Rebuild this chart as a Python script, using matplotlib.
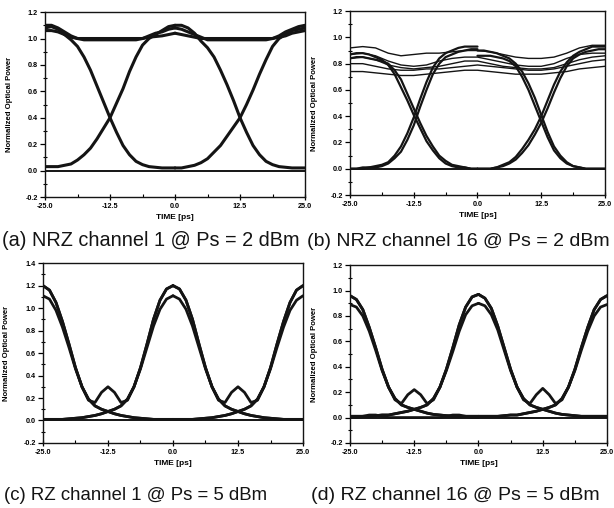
"""Eye diagrams for NRZ and RZ channels (four panels)."""

import matplotlib

matplotlib.use("Agg")
import matplotlib.pyplot as plt
from matplotlib.ticker import FixedLocator, MultipleLocator

plt.rcParams["font.family"] = ["Liberation Sans", "DejaVu Sans"]

INK = "#141414"

# time samples (ps): each half of the two-bit window every 1.25 ps
T_L = [-25.0, -23.75, -22.5, -21.25, -20.0, -18.75, -17.5, -16.25, -15.0, -13.75, -12.5,
       -11.25, -10.0, -8.75, -7.5, -6.25, -5.0, -3.75, -2.5, -1.25, 0.0]
T_R = [0.0, 1.25, 2.5, 3.75, 5.0, 6.25, 7.5, 8.75, 10.0, 11.25, 12.5,
       13.75, 15.0, 16.25, 17.5, 18.75, 20.0, 21.25, 22.5, 23.75, 25.0]
T_FULL = [-25.0, -22.5, -20.0, -17.5, -15.0, -12.5, -10.0, -7.5, -5.0, -2.5, 0.0,
          2.5, 5.0, 7.5, 10.0, 12.5, 15.0, 17.5, 20.0, 22.5, 25.0]
ZERO_FULL = [0.0, 0.0, 0.0, 0.0, 0.0, 0.0, 0.0, 0.0, 0.0, 0.0, 0.0,
             0.0, 0.0, 0.0, 0.0, 0.0, 0.0, 0.0, 0.0, 0.0, 0.0]

# (a) NRZ channel 1, Ps = 2 dBm
A_L10 = [1.08, 1.09, 1.07, 1.03, 0.99, 0.94, 0.86, 0.76, 0.64, 0.52, 0.40,
         0.29, 0.19, 0.12, 0.07, 0.045, 0.03, 0.025, 0.02, 0.02, 0.02]
A_L01 = [0.03, 0.03, 0.03, 0.04, 0.05, 0.08, 0.12, 0.17, 0.24, 0.32, 0.40,
         0.51, 0.62, 0.75, 0.86, 0.95, 1.00, 1.03, 1.06, 1.09, 1.10]
A_L11 = [1.06, 1.06, 1.05, 1.03, 1.01, 1.00, 1.00, 1.00, 1.00, 1.00, 1.00,
         1.00, 1.00, 1.00, 1.00, 1.00, 1.01, 1.015, 1.02, 1.03, 1.04]
A_L11B = [1.10, 1.10, 1.08, 1.05, 1.02, 1.00, 0.99, 0.99, 0.99, 0.99, 0.99,
          0.99, 0.99, 0.99, 0.99, 1.00, 1.02, 1.04, 1.05, 1.07, 1.08]
A_R10 = [1.10, 1.10, 1.08, 1.04, 0.98, 0.93, 0.86, 0.76, 0.65, 0.53, 0.40,
         0.29, 0.19, 0.12, 0.07, 0.045, 0.03, 0.025, 0.02, 0.02, 0.02]
A_R01 = [0.02, 0.02, 0.03, 0.04, 0.06, 0.09, 0.14, 0.19, 0.26, 0.33, 0.40,
         0.50, 0.61, 0.73, 0.84, 0.94, 1.00, 1.03, 1.06, 1.07, 1.08]
A_R11 = [1.04, 1.03, 1.02, 1.01, 1.00, 1.00, 1.00, 1.00, 1.00, 1.00, 1.00,
         1.00, 1.00, 1.00, 1.00, 1.00, 1.01, 1.02, 1.04, 1.05, 1.06]
A_R11B = [1.08, 1.07, 1.05, 1.03, 1.01, 0.99, 0.99, 0.99, 0.99, 0.99, 0.99,
          0.99, 0.99, 0.99, 0.99, 1.00, 1.02, 1.05, 1.07, 1.09, 1.10]

# (b) NRZ channel 16, Ps = 2 dBm
B_L10 = [0.87, 0.88, 0.88, 0.87, 0.85, 0.83, 0.79, 0.72, 0.62, 0.52, 0.41,
         0.31, 0.21, 0.14, 0.08, 0.04, 0.02, 0.01, 0.01, 0.00, 0.00]
B_L10B = [0.84, 0.85, 0.85, 0.84, 0.83, 0.82, 0.80, 0.75, 0.68, 0.57, 0.46,
          0.35, 0.25, 0.17, 0.10, 0.06, 0.03, 0.02, 0.01, 0.00, 0.00]
B_L01 = [0.00, 0.00, 0.01, 0.01, 0.02, 0.03, 0.05, 0.10, 0.17, 0.27, 0.39,
         0.53, 0.66, 0.77, 0.84, 0.88, 0.90, 0.92, 0.93, 0.93, 0.93]
B_L01B = [0.00, 0.00, 0.00, 0.01, 0.01, 0.02, 0.04, 0.08, 0.13, 0.22, 0.33,
          0.47, 0.60, 0.72, 0.80, 0.85, 0.87, 0.89, 0.90, 0.91, 0.91]
B_R10 = [0.90, 0.90, 0.89, 0.88, 0.86, 0.84, 0.80, 0.74, 0.65, 0.54, 0.41,
         0.28, 0.17, 0.10, 0.05, 0.02, 0.01, 0.00, 0.00, 0.00, 0.00]
B_R10B = [0.86, 0.86, 0.86, 0.85, 0.84, 0.82, 0.78, 0.70, 0.60, 0.48, 0.36,
          0.24, 0.14, 0.08, 0.04, 0.02, 0.01, 0.00, 0.00, 0.00, 0.00]
B_R01 = [0.00, 0.00, 0.00, 0.01, 0.03, 0.05, 0.09, 0.15, 0.22, 0.30, 0.40,
         0.52, 0.64, 0.74, 0.81, 0.86, 0.89, 0.91, 0.93, 0.93, 0.93]
B_R01B = [0.00, 0.00, 0.00, 0.01, 0.02, 0.04, 0.07, 0.12, 0.18, 0.26, 0.35,
          0.46, 0.58, 0.69, 0.78, 0.84, 0.87, 0.89, 0.90, 0.91, 0.91]
B_LEVEL1 = [0.92, 0.93, 0.92, 0.88, 0.86, 0.87, 0.88, 0.88, 0.89, 0.90, 0.90,
            0.89, 0.87, 0.85, 0.84, 0.84, 0.85, 0.88, 0.92, 0.94, 0.94]
B_LEVEL2 = [0.87, 0.88, 0.86, 0.82, 0.79, 0.78, 0.79, 0.82, 0.84, 0.85, 0.85,
            0.83, 0.81, 0.79, 0.78, 0.78, 0.80, 0.84, 0.87, 0.88, 0.88]
B_LEVEL3 = [0.84, 0.85, 0.83, 0.79, 0.77, 0.76, 0.77, 0.78, 0.80, 0.82, 0.82,
            0.80, 0.78, 0.77, 0.76, 0.76, 0.77, 0.80, 0.83, 0.85, 0.86]
B_LEVEL4 = [0.80, 0.80, 0.78, 0.76, 0.75, 0.75, 0.76, 0.76, 0.77, 0.78, 0.79,
            0.78, 0.77, 0.76, 0.75, 0.75, 0.76, 0.78, 0.80, 0.82, 0.83]
B_LEVEL5 = [0.74, 0.74, 0.73, 0.72, 0.71, 0.71, 0.72, 0.73, 0.74, 0.75, 0.75,
            0.74, 0.73, 0.72, 0.72, 0.72, 0.73, 0.74, 0.76, 0.77, 0.78]

# (c) RZ channel 1, Ps = 5 dBm
C_L10 = [1.20, 1.16, 1.05, 0.88, 0.68, 0.47, 0.30, 0.19, 0.13, 0.10, 0.08,
         0.06, 0.045, 0.035, 0.025, 0.02, 0.015, 0.01, 0.01, 0.01, 0.01]
C_L10B = [1.11, 1.08, 0.98, 0.83, 0.65, 0.46, 0.30, 0.19, 0.13, 0.10, 0.08,
          0.06, 0.045, 0.035, 0.025, 0.02, 0.015, 0.01, 0.01, 0.01, 0.01]
C_L01 = [0.01, 0.01, 0.01, 0.01, 0.015, 0.02, 0.025, 0.035, 0.045, 0.06, 0.08,
         0.10, 0.13, 0.19, 0.30, 0.47, 0.68, 0.90, 1.07, 1.17, 1.20]
C_L01B = [0.01, 0.01, 0.01, 0.01, 0.015, 0.02, 0.025, 0.035, 0.045, 0.06, 0.08,
          0.10, 0.13, 0.19, 0.30, 0.46, 0.65, 0.84, 0.99, 1.08, 1.11]
C_L11 = [1.20, 1.16, 1.05, 0.88, 0.68, 0.47, 0.30, 0.18, 0.16, 0.25, 0.30,
         0.25, 0.16, 0.18, 0.30, 0.47, 0.68, 0.90, 1.07, 1.17, 1.20]
C_R10 = [1.20, 1.17, 1.07, 0.90, 0.68, 0.47, 0.30, 0.19, 0.13, 0.10, 0.08,
         0.06, 0.045, 0.035, 0.025, 0.02, 0.015, 0.01, 0.01, 0.01, 0.01]
C_R10B = [1.11, 1.08, 0.99, 0.84, 0.65, 0.46, 0.30, 0.19, 0.13, 0.10, 0.08,
          0.06, 0.045, 0.035, 0.025, 0.02, 0.015, 0.01, 0.01, 0.01, 0.01]
C_R01 = [0.01, 0.01, 0.01, 0.01, 0.015, 0.02, 0.025, 0.035, 0.045, 0.06, 0.08,
         0.10, 0.13, 0.19, 0.30, 0.47, 0.68, 0.88, 1.05, 1.16, 1.20]
C_R01B = [0.01, 0.01, 0.01, 0.01, 0.015, 0.02, 0.025, 0.035, 0.045, 0.06, 0.08,
          0.10, 0.13, 0.19, 0.30, 0.46, 0.65, 0.83, 0.98, 1.07, 1.11]
C_R11 = [1.20, 1.17, 1.07, 0.90, 0.68, 0.47, 0.30, 0.18, 0.16, 0.25, 0.30,
         0.25, 0.16, 0.18, 0.30, 0.47, 0.68, 0.88, 1.05, 1.16, 1.20]

# (d) RZ channel 16, Ps = 5 dBm
D_L10 = [0.96, 0.93, 0.85, 0.71, 0.55, 0.38, 0.24, 0.15, 0.10, 0.08, 0.065,
         0.05, 0.035, 0.025, 0.02, 0.015, 0.01, 0.01, 0.01, 0.01, 0.01]
D_L10B = [0.89, 0.87, 0.80, 0.68, 0.53, 0.37, 0.24, 0.15, 0.10, 0.08, 0.065,
          0.05, 0.035, 0.025, 0.02, 0.015, 0.01, 0.01, 0.01, 0.01, 0.01]
D_L01 = [0.01, 0.01, 0.01, 0.01, 0.015, 0.02, 0.02, 0.03, 0.04, 0.05, 0.065,
         0.08, 0.10, 0.15, 0.24, 0.38, 0.55, 0.73, 0.87, 0.95, 0.97]
D_L01B = [0.01, 0.01, 0.01, 0.01, 0.015, 0.02, 0.02, 0.03, 0.04, 0.05, 0.065,
          0.08, 0.10, 0.15, 0.24, 0.37, 0.52, 0.68, 0.81, 0.88, 0.90]
D_L11 = [0.96, 0.93, 0.85, 0.71, 0.55, 0.38, 0.24, 0.14, 0.11, 0.18, 0.22,
         0.18, 0.11, 0.14, 0.24, 0.38, 0.55, 0.73, 0.87, 0.95, 0.97]
D_L00 = [0.00, 0.00, 0.01, 0.02, 0.02, 0.01, 0.00, 0.00, 0.00, 0.00, 0.00,
         0.00, 0.00, 0.00, 0.00, 0.01, 0.02, 0.02, 0.01, 0.00, 0.00]
D_R10 = [0.97, 0.94, 0.86, 0.72, 0.55, 0.38, 0.24, 0.15, 0.10, 0.08, 0.065,
         0.05, 0.035, 0.025, 0.02, 0.015, 0.01, 0.01, 0.01, 0.01, 0.01]
D_R10B = [0.90, 0.88, 0.81, 0.69, 0.53, 0.37, 0.24, 0.15, 0.10, 0.08, 0.065,
          0.05, 0.035, 0.025, 0.02, 0.015, 0.01, 0.01, 0.01, 0.01, 0.01]
D_R01 = [0.01, 0.01, 0.01, 0.01, 0.015, 0.02, 0.02, 0.03, 0.04, 0.05, 0.065,
         0.08, 0.10, 0.15, 0.24, 0.38, 0.55, 0.71, 0.85, 0.93, 0.96]
D_R01B = [0.01, 0.01, 0.01, 0.01, 0.015, 0.02, 0.02, 0.03, 0.04, 0.05, 0.065,
          0.08, 0.10, 0.15, 0.24, 0.37, 0.53, 0.68, 0.80, 0.87, 0.89]
D_R11 = [0.97, 0.94, 0.86, 0.72, 0.55, 0.38, 0.24, 0.14, 0.11, 0.18, 0.23,
         0.18, 0.11, 0.14, 0.24, 0.38, 0.55, 0.71, 0.85, 0.93, 0.96]

X_TICKS = [-25.0, -12.5, 0.0, 12.5, 25.0]
X_TICK_LABELS = ["-25.0", "-12.5", "0.0", "12.5", "25.0"]

CAPTIONS = [
    "(a) NRZ channel 1 @ Ps = 2 dBm",
    "(b) NRZ channel 16 @ Ps = 2 dBm",
    "(c) RZ channel 1 @ Ps = 5 dBm",
    "(d) RZ channel 16 @ Ps = 5 dBm",
]


def draw_traces(axis, times, traces, width):
    """Overlay one group of eye traces on the same time base."""
    for values in traces:
        axis.plot(times, values, color=INK, lw=width,
                  solid_joinstyle="round", solid_capstyle="round")


def style_axis(axis, y_top):
    """Apply the boxed Origin-like look to one eye panel."""
    axis.set_xlim(-25, 25)
    axis.set_ylim(-0.2, y_top)
    axis.xaxis.set_major_locator(FixedLocator(X_TICKS))
    axis.set_xticklabels(X_TICK_LABELS)
    axis.xaxis.set_minor_locator(MultipleLocator(6.25))
    axis.yaxis.set_major_locator(MultipleLocator(0.2))
    axis.yaxis.set_minor_locator(MultipleLocator(0.1))
    axis.yaxis.set_major_formatter(lambda v, _: f"{v:.1f}")
    axis.tick_params(axis="x", which="major", direction="inout", length=5,
                     width=0.9, labelsize=5.2, pad=2)
    axis.tick_params(axis="x", which="minor", direction="in", length=2.5, width=0.8)
    axis.tick_params(axis="y", which="major", direction="out", length=3.5,
                     width=0.9, labelsize=5.2, pad=1.5)
    axis.tick_params(axis="y", which="minor", direction="inout", length=3, width=0.8)
    for label in axis.get_xticklabels() + axis.get_yticklabels():
        label.set_fontweight("bold")
    for spine in axis.spines.values():
        spine.set_linewidth(1.0)
        spine.set_color(INK)
    axis.set_xlabel("TIME [ps]", fontsize=6, fontweight="bold", labelpad=3)
    axis.set_ylabel("Normalized Optical Power", fontsize=5.6, fontweight="bold")
    axis.yaxis.set_label_coords(-0.125, 0.5)


fig = plt.figure(figsize=(6.14, 5.08), dpi=100)
ax_a = fig.add_axes([0.0733, 0.6122, 0.4235, 0.364])
ax_b = fig.add_axes([0.5700, 0.6161, 0.4153, 0.362])
ax_c = fig.add_axes([0.0700, 0.1280, 0.4235, 0.354])
ax_d = fig.add_axes([0.5700, 0.1280, 0.4186, 0.350])

draw_traces(ax_a, T_FULL, [ZERO_FULL], 1.4)
draw_traces(ax_a, T_L, [A_L11, A_L11B, A_L10, A_L01], 2.2)
draw_traces(ax_a, T_R, [A_R11, A_R11B, A_R10, A_R01], 2.2)
style_axis(ax_a, 1.2)

draw_traces(ax_b, T_FULL, [B_LEVEL1, B_LEVEL2, B_LEVEL3, B_LEVEL4, B_LEVEL5], 1.0)
draw_traces(ax_b, T_FULL, [ZERO_FULL], 1.4)
draw_traces(ax_b, T_L, [B_L10, B_L10B, B_L01, B_L01B], 1.6)
draw_traces(ax_b, T_R, [B_R10, B_R10B, B_R01, B_R01B], 1.6)
style_axis(ax_b, 1.2)

draw_traces(ax_c, T_FULL, [ZERO_FULL], 1.4)
draw_traces(ax_c, T_L, [C_L10, C_L10B, C_L01, C_L01B, C_L11], 2.0)
draw_traces(ax_c, T_R, [C_R10, C_R10B, C_R01, C_R01B, C_R11], 2.0)
style_axis(ax_c, 1.4)

draw_traces(ax_d, T_FULL, [ZERO_FULL], 1.4)
draw_traces(ax_d, T_L, [D_L10, D_L10B, D_L01, D_L01B, D_L11, D_L00], 2.0)
draw_traces(ax_d, T_R, [D_R10, D_R10B, D_R01, D_R01B, D_R11], 2.0)
style_axis(ax_d, 1.2)

caption_spots = [(2, 241, 14.3), (307, 241, 14.0), (4, 496, 13.4), (311, 496, 14.0)]
for text, (px, py, size) in zip(CAPTIONS, caption_spots):
    fig.text(px / 614, 1 - py / 508, text, fontsize=size, color=INK,
             ha="left", va="center")

fig.savefig("out.png", dpi=100, facecolor="white")
